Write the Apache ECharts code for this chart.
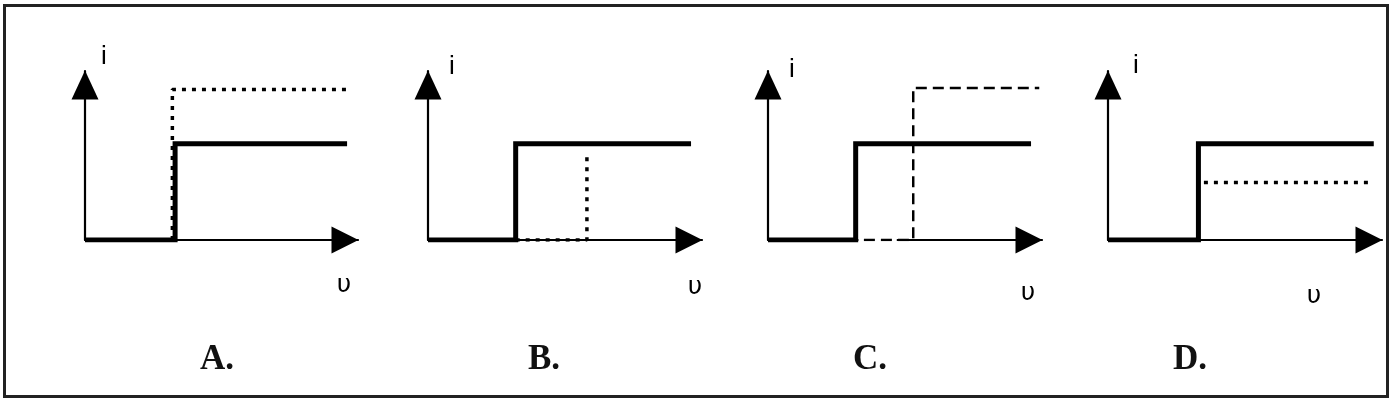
<!DOCTYPE html>
<html>
<head>
<meta charset="utf-8">
<title>i - u</title>
<script src="https://cdn.jsdelivr.net/npm/echarts@6.0.0/dist/echarts.min.js"></script>
<style>
  html, body {
    margin: 0;
    padding: 0;
    background: #ffffff;
  }
  #chart {
    width: 1394px;
    height: 402px;
  }
</style>
</head>
<body>
<div id="chart"></div>
<script>
// labels
var panelNames = ["A.", "B.", "C.", "D."];
var yName = "i";
var xName = "υ";

// axis range (arbitrary units, origin at the corner of the axes)
var xMax = 10;
var yMax = 10;

// solid thick curve of each panel
var solidA = [[0, 0], [3.3, 0], [3.3, 5.7], [9.6, 5.7]];
var solidB = [[0, 0], [3.2, 0], [3.2, 5.7], [9.6, 5.7]];
var solidC = [[0, 0], [3.2, 0], [3.2, 5.7], [9.6, 5.7]];
var solidD = [[0, 0], [3.3, 0], [3.3, 5.7], [9.7, 5.7]];

// second (dotted / dashed) curve of each panel
var dotA = [[3.2, 0], [3.2, 8.9], [9.6, 8.9]];
var dotB = [[3.2, 0], [5.8, 0], [5.8, 5.1]];
var dashC = [[3.5, 0], [5.3, 0], [5.3, 9.0], [9.9, 9.0]];
var dotD = [[3.5, 3.4], [9.7, 3.4]];

// in C the axis itself is broken where the dashed part runs on it
var gapC = [[3.3, 0], [4.7, 0]];

var solidList = [solidA, solidB, solidC, solidD];
var otherList = [dotA, dotB, dashC, dotD];

var myChart = echarts.init(document.getElementById("chart"), null, { renderer: "canvas" });

// pixel layout of the four panels
var gridLeft = [85, 428, 768, 1108];
var gridWidth = [273, 274, 274, 274];
var gridTop = 71;
var gridHeight = 169;

// text spots, relative to each panel's y axis
var iPos = [[19, 57], [24, 67], [24, 70], [28, 66]];
var uPos = [[259, 285], [267, 287], [260, 293], [206, 296]];
var namePos = [[132, 360], [116, 360], [102, 360], [82, 360]];

var grids = [];
var xAxes = [];
var yAxes = [];
var series = [];
var texts = [];

for (var i = 0; i < 4; i++) {
  grids.push({
    left: gridLeft[i],
    top: gridTop,
    width: gridWidth[i],
    height: gridHeight,
    outerBoundsMode: "none",
    containLabel: false
  });
  xAxes.push({
    gridIndex: i,
    type: "value",
    min: 0,
    max: xMax,
    axisLine: {
      show: true,
      onZero: false,
      symbol: ["none", "triangle"],
      symbolSize: [27, 27],
      symbolOffset: [0, -13],
      lineStyle: { color: "#000000", width: 2.2 }
    },
    axisTick: { show: false },
    axisLabel: { show: false },
    splitLine: { show: false }
  });
  yAxes.push({
    gridIndex: i,
    type: "value",
    min: 0,
    max: yMax,
    axisLine: {
      show: true,
      onZero: false,
      symbol: ["none", "triangle"],
      symbolSize: [27, 29],
      symbolOffset: [0, -14],
      lineStyle: { color: "#000000", width: 2.2 }
    },
    axisTick: { show: false },
    axisLabel: { show: false },
    splitLine: { show: false }
  });

  var otherStyle = { color: "#000000", width: 3.5, type: [4, 6] };
  if (i === 2) {
    otherStyle = { color: "#000000", width: 2.5, type: [11, 6] };
    series.push({
      type: "line",
      xAxisIndex: i,
      yAxisIndex: i,
      data: gapC,
      symbol: "none",
      silent: true,
      lineStyle: { color: "#ffffff", width: 4 },
      z: 1
    });
  }
  series.push({
    type: "line",
    xAxisIndex: i,
    yAxisIndex: i,
    data: otherList[i],
    symbol: "none",
    silent: true,
    lineStyle: otherStyle,
    z: 2
  });
  series.push({
    type: "line",
    xAxisIndex: i,
    yAxisIndex: i,
    data: solidList[i],
    symbol: "none",
    silent: true,
    lineStyle: { color: "#000000", width: 5, cap: "butt", join: "miter" },
    z: 3
  });

  texts.push({
    type: "text",
    x: gridLeft[i] + iPos[i][0],
    y: iPos[i][1],
    style: {
      text: yName,
      font: "26px 'Liberation Sans'",
      fill: "#000000",
      align: "center",
      verticalAlign: "middle"
    }
  });
  texts.push({
    type: "text",
    x: gridLeft[i] + uPos[i][0],
    y: uPos[i][1],
    style: {
      text: xName,
      font: "25px 'DejaVu Sans'",
      fill: "#000000",
      align: "center",
      verticalAlign: "middle"
    }
  });
  texts.push({
    type: "text",
    x: gridLeft[i] + namePos[i][0],
    y: namePos[i][1],
    style: {
      text: panelNames[i],
      font: "bold 35px 'Liberation Serif'",
      fill: "#111111",
      align: "center",
      verticalAlign: "middle"
    }
  });
}

// frame round the whole figure
texts.push({
  type: "rect",
  shape: { x: 4.5, y: 5.5, width: 1383, height: 391 },
  style: { fill: "none", stroke: "#222222", lineWidth: 3 },
  silent: true
});

myChart.setOption({
  backgroundColor: "#ffffff",
  animation: false,
  grid: grids,
  xAxis: xAxes,
  yAxis: yAxes,
  series: series,
  graphic: texts
});
</script>
</body>
</html>
